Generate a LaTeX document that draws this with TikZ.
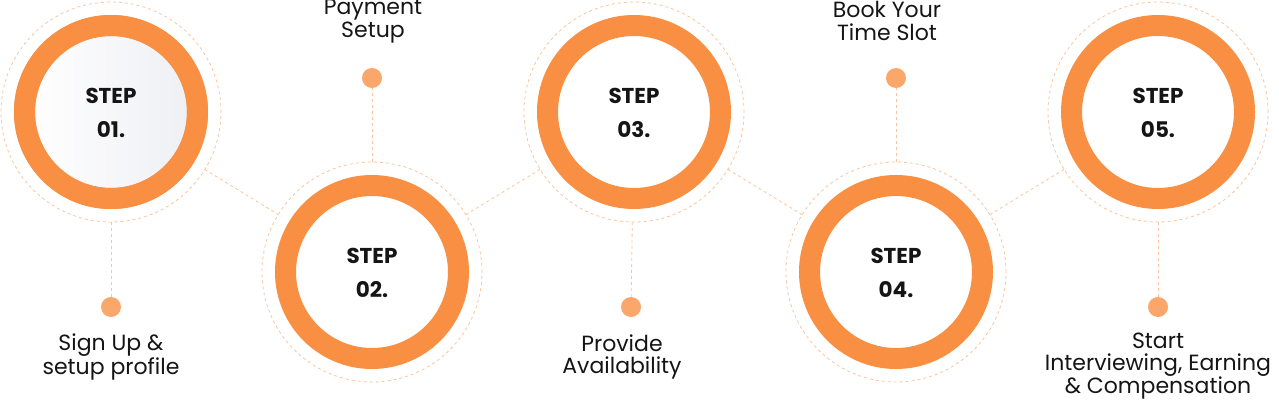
\documentclass[tikz,border=0pt]{standalone}
\usepackage{fontspec}
\setmainfont{Poppins}
\usepackage{xcolor}

\definecolor{ringorange}{HTML}{F88F43}
\definecolor{dotorange}{HTML}{FBA66A}
\definecolor{dashorange}{HTML}{F9C49E}
\definecolor{textdark}{HTML}{151515}
\definecolor{softgray}{HTML}{EEEFF4}

\tikzset{
  halo/.style={circle, draw=dashorange, line width=0.8pt, dash pattern=on 3pt off 3pt,
    minimum size=220pt, inner sep=0pt, outer sep=0pt},
  ring/.style={circle, draw=ringorange, line width=21pt, fill=white,
    minimum size=173pt, inner sep=0pt, outer sep=0pt},
  dot/.style={circle, fill=dotorange, minimum size=20pt, inner sep=0pt, outer sep=0pt},
  link/.style={draw=dashorange, line width=0.8pt, dash pattern=on 3pt off 3pt},
  steptext/.style={align=center, text=textdark, font=\bfseries\fontsize{21.5}{34}\selectfont},
  caption/.style={align=center, text=textdark, font=\fontsize{22}{22.5}\selectfont}
}

\begin{document}
\begin{tikzpicture}[x=1pt,y=-1pt]
    \useasboundingbox (0,0) rectangle (1279,401);

    % Dashed halos
    \node[halo] (h1) at (111,112) {};
    \node[halo] (h2) at (372,272) {};
    \node[halo] (h3) at (634,112) {};
    \node[halo] (h4) at (896,272) {};
    \node[halo] (h5) at (1158,112) {};

    % Links between halos
    \draw[link] (h1) -- (h2);
    \draw[link] (h2) -- (h3);
    \draw[link] (h3) -- (h4);
    \draw[link] (h4) -- (h5);

    % Orange rings
    \node[ring, shading=axis, left color=white, right color=softgray] (c1) at (h1) {};
    \node[ring] (c2) at (h2) {};
    \node[ring] (c3) at (h3) {};
    \node[ring] (c4) at (h4) {};
    \node[ring] (c5) at (h5) {};
    \draw[ringorange, line width=21pt] (c1.center) circle (86.5);

    % Step numbers
    \node[steptext] (n1) at (111,113) {STEP\\01.};
    \node[steptext] (n2) at (372,273) {STEP\\02.};
    \node[steptext] (n3) at (634,113) {STEP\\03.};
    \node[steptext] (n4) at (896,273) {STEP\\04.};
    \node[steptext] (n5) at (1158,113) {STEP\\05.};

    % Dots
    \node[dot] (d1) at (111,307) {};
    \node[dot] (d2) at (372,78) {};
    \node[dot] (d3) at (631,307) {};
    \node[dot] (d4) at (896,78) {};
    \node[dot] (d5) at (1158,307) {};

    \draw[link] (h1) -- (d1);
    \draw[link] (h2) -- (d2);
    \draw[link] (h3) -- (d3);
    \draw[link] (h4) -- (d4);
    \draw[link] (h5) -- (d5);

    % Captions
    \node[caption] (t1) at (111,357) {Sign Up \&\\setup profile};
    \node[caption] (t2) at (373,21) {Payment\\Setup};
    \node[caption] (t3) at (622,357) {Provide\\Availability};
    \node[caption] (t4) at (887,21) {Book Your\\Time Slot};
    \node[caption, font=\fontsize{22}{22}\selectfont] (t5) at (1158,366) {Start\\Interviewing, Earning\\\& Compensation};
\end{tikzpicture}
\end{document}
